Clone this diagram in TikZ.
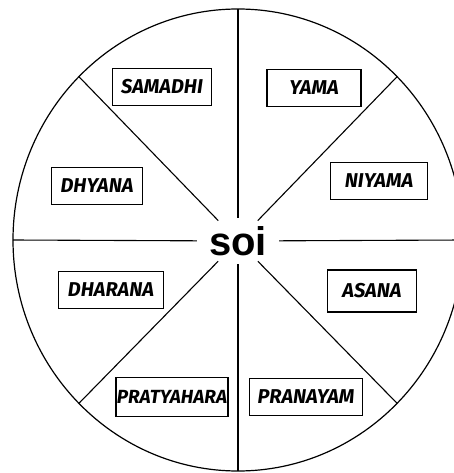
\documentclass[tikz,border=0pt]{standalone}
\usepackage{fontspec}
\usepackage{tikz}
\usetikzlibrary{shapes.geometric, calc}
\newfontfamily\limbfont{Fira Sans}
\newfontfamily\hubfont{Liberation Sans}

\begin{document}
\begin{tikzpicture}[x=1pt, y=-1pt,
  limb/.style={draw, line width=1.3pt, rectangle, minimum height=37pt,
    minimum width=89pt, inner xsep=3pt, font=\limbfont\fontsize{20}{20}\selectfont\bfseries\itshape},
  spoke/.style={line width=1.1pt}]
% ---- page ----
\useasboundingbox (0,0) rectangle (454,473);
\fill[white] (0,0) rectangle (454,473);

% ---- wheel ----
\draw[line width=1.2pt] (238,240) ellipse [x radius=225, y radius=231];

% hub
\node[ellipse, minimum width=68pt, minimum height=46pt, inner sep=0pt,
  font=\hubfont\fontsize{40}{40}\selectfont\bfseries] (soi) at (238,241) {soi};

% rim points
\foreach \a [count=\i] in {90,45,0,-45,-90,-135,180,135}
  \coordinate (rim\i) at ($(238,240)+(\a:225 and 231)$);

% spokes
\foreach \i in {1,...,8}
  \draw[spoke] (soi) -- (rim\i);

% ---- eight limbs ----
\node[limb, minimum width=99pt] (samadhi)    at (162,87)  {SAMADHI};
\node[limb, minimum width=94pt] (yama)       at (314,88)  {YAMA};
\node[limb, minimum width=97pt] (niyama)     at (379,181) {NIYAMA};
\node[limb, minimum height=42pt] (asana)     at (372,291) {ASANA};
\node[limb, minimum width=113pt] (pranayam)  at (306,397) {PRANAYAM};
\node[limb, minimum height=39pt, inner xsep=1pt,
  font=\limbfont\fontsize{19}{19}\selectfont\bfseries\itshape] (pratyahara) at (172,397) {PRATYAHARA};
\node[limb, minimum width=105pt] (dharana)   at (111,290) {DHARANA};
\node[limb, minimum width=91pt] (dhyana)     at (97,186)  {DHYANA};
\end{tikzpicture}
\end{document}
